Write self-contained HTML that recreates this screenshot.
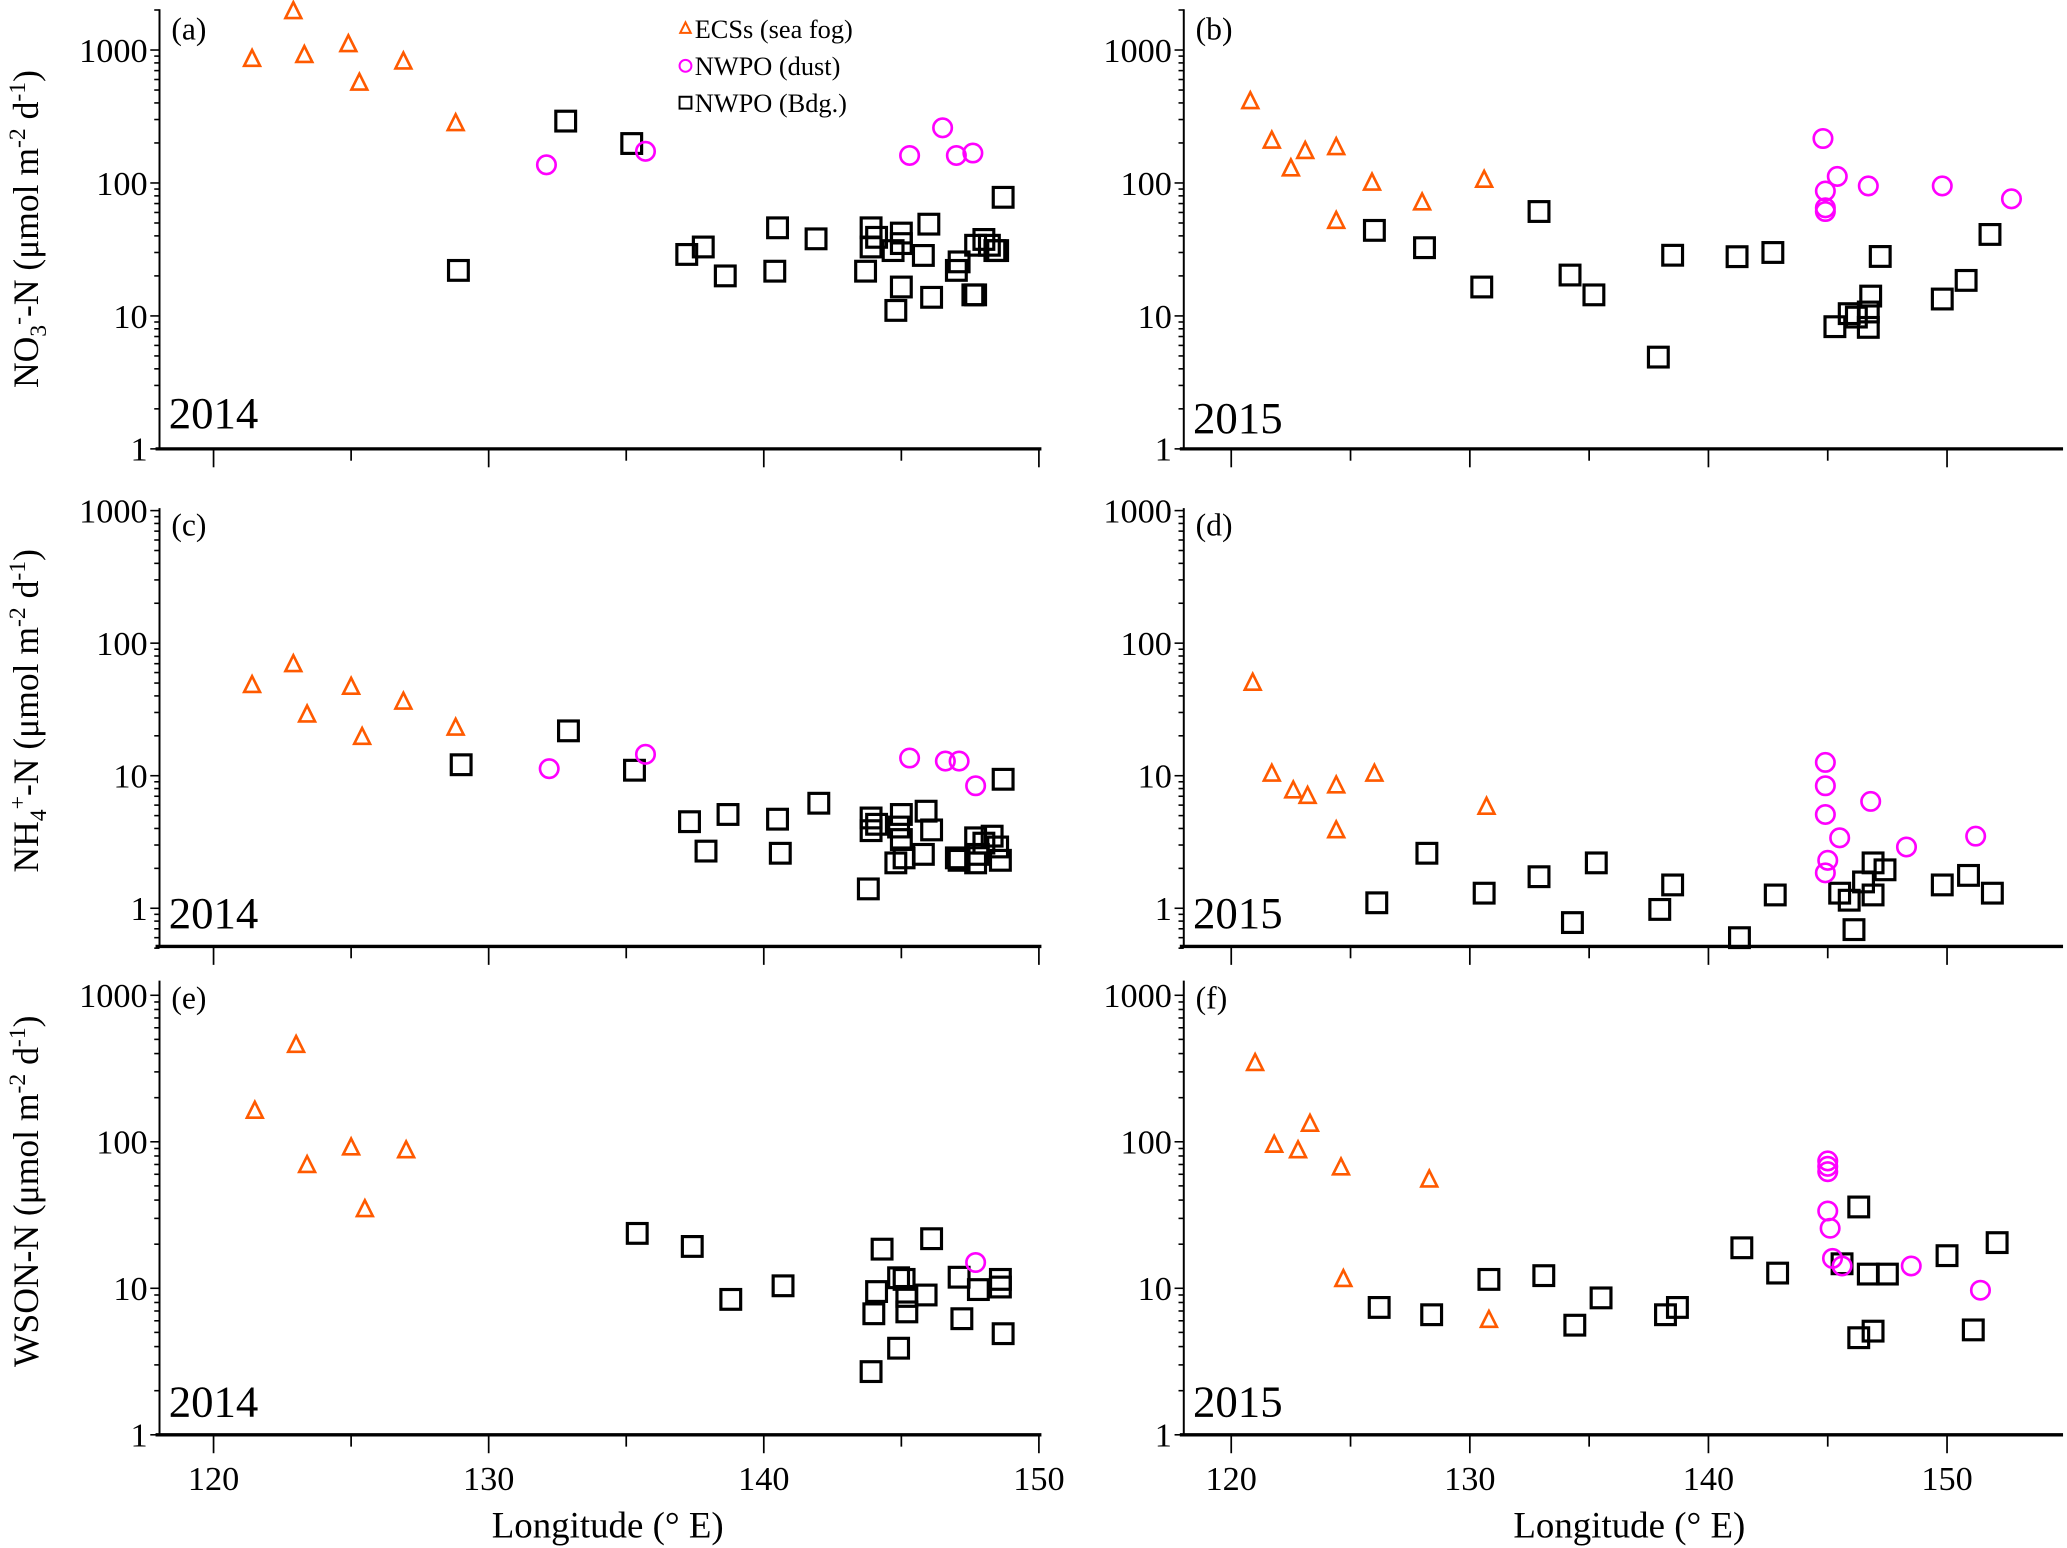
<!DOCTYPE html>
<html><head><meta charset="utf-8"><style>
html,body{margin:0;padding:0;background:#fff;}
svg{display:block;font-family:"Liberation Serif",serif;}
</style></head><body>
<svg id="chart" width="2067" height="1548" viewBox="0 0 1568 1176" preserveAspectRatio="none" xmlns="http://www.w3.org/2000/svg"></svg>
<script>
// ---- data arrays: [longitude, flux] ----
const aTri=[[121.4,853],[122.9,1950],[123.3,912],[124.9,1100],[125.3,565],[126.9,815],[128.8,280]];
const aCir=[[132.1,137],[135.7,173],[145.3,161],[146.5,260],[147.0,161],[147.6,168]];
const aSq=[[128.9,22],[132.8,292],[135.2,198],[137.2,29],[137.8,33],[138.6,20],[140.4,21.7],[140.5,46],[141.9,38],[143.7,21.7],[143.9,46],[143.9,33],[144.1,39],[144.7,31],[144.8,11],[145.0,16.5],[145.0,42],[145.0,35],[145.8,28.5],[146.0,49],[146.1,13.8],[147.0,22],[147.1,25.5],[147.6,14.4],[147.7,14.4],[147.7,34],[148.0,37.6],[148.2,34],[148.4,31],[148.5,31],[148.7,78]];
const bTri=[[120.8,410],[121.7,207],[122.5,128],[123.1,173],[124.4,185],[124.4,51.6],[125.9,100],[128.0,71],[130.6,105]];
const bCir=[[144.8,216],[144.9,87],[144.9,65],[144.9,61],[145.4,112],[146.7,95],[149.8,95],[152.7,76]];
const bSq=[[126.0,44],[128.1,32.6],[130.5,16.5],[132.9,61],[134.2,20.3],[135.2,14.4],[137.9,4.9],[138.5,28.6],[141.2,27.9],[142.7,30],[145.3,8.3],[145.9,10.4],[146.2,9.8],[146.7,10.7],[146.7,8.2],[146.8,14.1],[147.2,28],[149.8,13.4],[150.8,18.5],[151.8,41]];
const cTri=[[121.4,48],[122.9,69],[123.4,28.8],[125.0,46.6],[125.4,19.5],[126.9,36],[128.8,22.9]];
const cCir=[[132.2,11.3],[135.7,14.5],[145.3,13.6],[146.6,12.9],[147.1,12.9],[147.7,8.4]];
const cSq=[[129.0,12.1],[132.9,21.8],[135.3,11],[137.3,4.5],[137.9,2.7],[138.7,5.1],[140.5,4.7],[140.6,2.6],[142.0,6.2],[143.9,3.85],[143.8,1.4],[143.9,4.8],[144.1,4.3],[144.9,4.1],[145.0,5.1],[145.0,3.3],[144.8,2.2],[145.1,2.4],[145.8,2.55],[145.9,5.4],[146.1,3.9],[147.0,2.4],[147.1,2.3],[147.7,3.4],[147.7,2.2],[147.8,2.55],[148.0,3.1],[148.3,3.5],[148.5,2.9],[148.6,2.3],[148.7,9.4]];
const dTri=[[120.9,50],[121.7,10.3],[122.6,7.7],[123.2,7],[124.4,8.4],[124.4,3.85],[126.0,10.3],[130.7,5.8]];
const dCir=[[144.9,12.6],[144.9,8.4],[144.9,5.1],[145.0,2.3],[144.9,1.85],[145.5,3.4],[146.8,6.4],[148.3,2.9],[151.2,3.5]];
const dSq=[[126.1,1.1],[128.2,2.6],[130.6,1.3],[132.9,1.73],[134.3,0.78],[135.3,2.2],[137.96,0.98],[138.5,1.5],[141.3,0.6],[142.8,1.26],[145.5,1.3],[145.9,1.15],[146.1,0.69],[146.5,1.58],[146.9,2.2],[146.9,1.26],[147.4,1.95],[149.8,1.5],[150.9,1.77],[151.9,1.3]];
const eTri=[[121.5,162],[123.0,456],[123.4,69],[125.0,91],[125.5,34.5],[127.0,87]];
const eCir=[[147.7,15.0]];
const eSq=[[135.4,23.7],[137.4,19.3],[138.8,8.4],[140.7,10.4],[143.9,2.7],[144.0,6.7],[144.1,9.5],[144.3,18.5],[144.9,3.9],[144.9,11.8],[145.1,11.5],[145.2,6.9],[145.2,8.8],[145.9,9.0],[146.1,21.8],[147.1,11.9],[147.2,6.2],[147.8,9.8],[148.6,11.5],[148.6,10.2],[148.7,4.9]];
const fTri=[[121.0,343],[121.8,95],[122.8,87],[123.3,132],[124.6,66.5],[124.7,11.5],[128.3,55],[130.8,6.05]];
const fCir=[[145.0,68],[145.0,74],[145.0,62.5],[145.0,33.7],[145.1,25.7],[145.2,16],[145.6,14.2],[148.5,14.2],[151.4,9.7]];
const fSq=[[126.2,7.4],[128.4,6.6],[130.8,11.5],[133.1,12.2],[134.4,5.6],[135.5,8.6],[138.2,6.6],[138.7,7.4],[141.4,18.9],[142.9,12.7],[145.6,14.7],[146.3,35.9],[146.3,4.6],[146.7,12.5],[146.9,5.1],[147.5,12.5],[150.0,16.7],[151.1,5.2],[152.1,20.5]];
const xTicks=[120,130,140,150];
const yTicks=[1,10,100,1000];

const NS="http://www.w3.org/2000/svg";
const svg=document.getElementById('chart');
function mk(tag,attrs,parent){const e=document.createElementNS(NS,tag);for(const k in attrs)e.setAttribute(k,attrs[k]);(parent||svg).appendChild(e);return e;}

const cols=[{x0:162,px:20.87,left:121,right:790},{x0:934,px:18.1,left:898,right:1565}];
const rows=[{y1:341,dec:101,top:7,bottom:341,min:1},{y1:690,dec:100.7,top:386,bottom:719,min:0.5},{y1:1090,dec:111.3,top:745,bottom:1090,min:1}];
const panels=[
 {c:0,r:0,id:'a',tri:aTri,cir:aCir,sq:aSq,yr:'2014'},
 {c:1,r:0,id:'b',tri:bTri,cir:bCir,sq:bSq,yr:'2015'},
 {c:0,r:1,id:'c',tri:cTri,cir:cCir,sq:cSq,yr:'2014'},
 {c:1,r:1,id:'d',tri:dTri,cir:dCir,sq:dSq,yr:'2015'},
 {c:0,r:2,id:'e',tri:eTri,cir:eCir,sq:eSq,yr:'2014'},
 {c:1,r:2,id:'f',tri:fTri,cir:fCir,sq:fSq,yr:'2015'}];

function drawSq(g,x,y){const e=mk('rect',{x:x-7.5,y:y-7.5,width:15,height:15,fill:'none',stroke:'#000','stroke-width':2.4},g);return e;}
function drawTri(g,x,y){return mk('path',{d:`M${x},${y-7}L${x+6},${y+5}L${x-6},${y+5}Z`,fill:'none',stroke:'#ff5a00','stroke-width':2},g);}
function drawCir(g,x,y){return mk('circle',{cx:x,cy:y,r:7,fill:'none',stroke:'#ff00ff','stroke-width':2},g);}

panels.forEach(p=>{
  const C=cols[p.c],R=rows[p.r];
  const X=v=>C.x0+(v-120)*C.px;
  const Y=v=>R.y1-Math.log10(v)*R.dec;
  const g=mk('g',{});
  
  
  // axes
  const ya=mk('line',{x1:C.left,y1:R.top,x2:C.left,y2:R.bottom,stroke:'#000','stroke-width':1.5},g);
  
  
  const xa=mk('line',{x1:C.left-3,y1:R.bottom,x2:C.right,y2:R.bottom,stroke:'#000','stroke-width':2.5},g);
  
  
  // y ticks
  for(let d=-1;d<4;d++){for(let m=1;m<10;m++){const v=m*Math.pow(10,d);if(v<R.min-1e-9)continue;const y=Y(v);if(y<R.top-1)continue;
    mk('line',{x1:C.left-(m===1?7:4),y1:y,x2:C.left,y2:y,stroke:'#000','stroke-width':1.2},g);}}
  yTicks.forEach(v=>{const t=mk('text',{x:C.left-9,y:Y(v)+9,'text-anchor':'end','font-size':26,fill:'#000',textLength:v>=1000?52:(v>=100?39:(v>=10?26:13)),lengthAdjust:'spacingAndGlyphs'},g);t.textContent=v;
    
    });
  // x ticks
  for(let v=120;v<=155;v+=5){const x=X(v);if(x>C.right+1)continue;mk('line',{x1:x,y1:R.bottom,x2:x,y2:R.bottom+(v%10===0?14:9),stroke:'#000','stroke-width':1.3},g);}
  if(p.r===2){xTicks.forEach(v=>{const t=mk('text',{x:X(v),y:R.bottom+42,'text-anchor':'middle','font-size':26,fill:'#000'},g);t.textContent=v;
    
    });
    const xt=mk('text',{x:(p.c===0?461:1236),y:R.bottom+78,'text-anchor':'middle','font-size':28,fill:'#000'},g);xt.textContent='Longitude (\u00B0 E)';
    
    }
  const pl=mk('text',{x:C.left+9,y:R.top+(p.r===0?23:21),'font-size':24,fill:'#000'},g);pl.textContent='('+p.id+')';
  
  
  const yl=mk('text',{x:C.left+7,y:R.bottom-(p.r===0?16:14)+(p.c===1&&p.r===0?4:0),'font-size':34,fill:'#000'},g);yl.textContent=p.yr;
  
  
  p.sq.forEach(d=>{const e=drawSq(g,X(d[0]),Y(d[1]));
    
    });
  p.tri.forEach(d=>{const e=drawTri(g,X(d[0]),Y(d[1]));
    
    });
  p.cir.forEach(d=>{const e=drawCir(g,X(d[0]),Y(d[1]));
    
    });
});

// y-axis titles
const yTitles=[{y:174,html:'NO<tspan font-size="18" dy="6">3</tspan><tspan font-size="18" dy="-16">-</tspan><tspan dy="10">-N (\u03BCmol m</tspan><tspan font-size="18" dy="-10">-2</tspan><tspan dy="10"> d</tspan><tspan font-size="18" dy="-10">-1</tspan><tspan dy="10">)</tspan>'},
 {y:540,html:'NH<tspan font-size="18" dy="6">4</tspan><tspan font-size="18" dy="-16">+</tspan><tspan dy="10">-N (\u03BCmol m</tspan><tspan font-size="18" dy="-10">-2</tspan><tspan dy="10"> d</tspan><tspan font-size="18" dy="-10">-1</tspan><tspan dy="10">)</tspan>'},
 {y:905,html:'WSON-N (\u03BCmol m<tspan font-size="18" dy="-10">-2</tspan><tspan dy="10"> d</tspan><tspan font-size="18" dy="-10">-1</tspan><tspan dy="10">)</tspan>'}];
yTitles.forEach(t=>{const e=mk('text',{x:0,y:0,'text-anchor':'middle','font-size':27,fill:'#000',transform:`translate(29,${t.y}) rotate(-90)`});e.innerHTML=t.html;
  
  });

// legend
const lg=mk('g',{});


const li=[['tri','ECSs (sea fog)',22],['cir','NWPO (dust)',50],['sq','NWPO (Bdg.)',78]];
li.forEach(l=>{const x=520,y=l[2];
  let m;
  if(l[0]==='tri')m=mk('path',{d:`M${x},${y-5}L${x+4},${y+3}L${x-4},${y+3}Z`,fill:'none',stroke:'#ff5a00','stroke-width':1.5},lg);
  else if(l[0]==='cir')m=mk('circle',{cx:x,cy:y,r:4.5,fill:'none',stroke:'#ff00ff','stroke-width':1.5},lg);
  else m=mk('rect',{x:x-4.5,y:y-4.5,width:9,height:9,fill:'none',stroke:'#000','stroke-width':1.5},lg);
  const t=mk('text',{x:x+7,y:y+7,'font-size':20,fill:'#000'},lg);t.textContent=l[1];
  
  });
</script>
</body></html>
